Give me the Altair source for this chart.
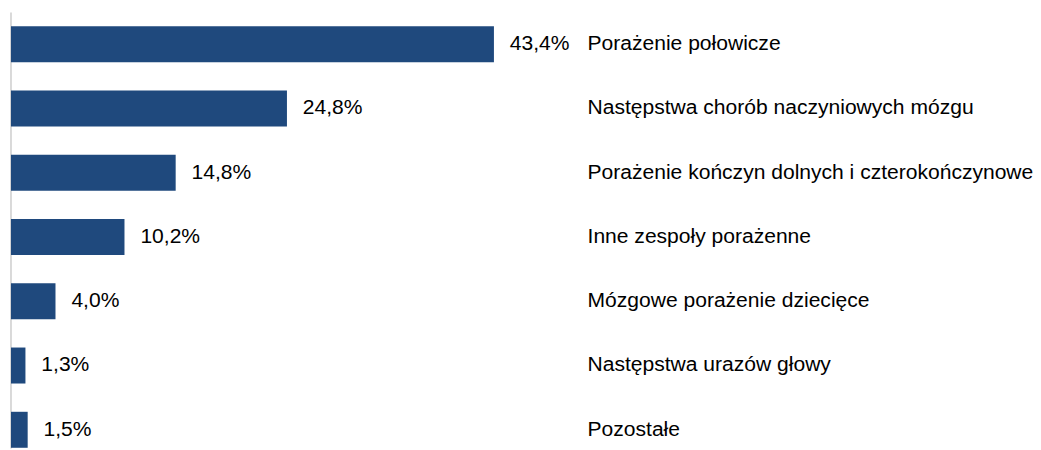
import altair as alt
import pandas as pd

categories = [
    "Porażenie połowicze",
    "Następstwa chorób naczyniowych mózgu",
    "Porażenie kończyn dolnych i czterokończynowe",
    "Inne zespoły porażenne",
    "Mózgowe porażenie dziecięce",
    "Następstwa urazów głowy",
    "Pozostałe",
]
values = [43.4, 24.8, 14.8, 10.2, 4.0, 1.3, 1.5]
labels = [f"{v:.1f}".replace(".", ",") + "%" for v in values]

df = pd.DataFrame({"cat": categories, "value": values, "label": labels})

FONT = "Liberation Sans"
FS = 21.2

y_enc = alt.Y(
    "cat:N",
    sort=categories,
    title=None,
    scale=alt.Scale(paddingInner=0.44, paddingOuter=0.1125, align=0.95),
    axis=alt.Axis(
        orient="right",
        domain=False,
        ticks=False,
        labelAlign="left",
        labelPadding=3,
        labelFont=FONT,
        labelFontSize=FS,
        labelColor="#000000",
        labelLimit=600,
    ),
)
x_enc = alt.X("value:Q", scale=alt.Scale(domain=[0, 51.5], nice=False, zero=True), axis=None)

base = alt.Chart(df)
bars = base.mark_bar(color="#1F497D").encode(y=y_enc, x=x_enc)
text = base.mark_text(align="left", baseline="middle", dx=16, font=FONT, fontSize=FS, color="#000000").encode(
    y=alt.Y("cat:N", sort=categories), x=x_enc, text="label:N"
)
rule = alt.Chart(pd.DataFrame({"z": [0]})).mark_rule(color="#d9d9d9", strokeWidth=2).encode(
    x=alt.X("z:Q", scale=alt.Scale(domain=[0, 51.5], nice=False), axis=None)
)

chart = (
    alt.layer(rule, bars, text)
    .properties(
        width=577,
        height=439,
        autosize=alt.AutoSizeParams(type="none"),
        padding={"left": 3, "top": 3, "right": 452, "bottom": 0},
    )
    .configure(background="#ffffff", view=alt.ViewConfig(stroke=None, strokeWidth=0))
)

chart.save("out.html", embed_options={"renderer": "svg", "actions": False})
